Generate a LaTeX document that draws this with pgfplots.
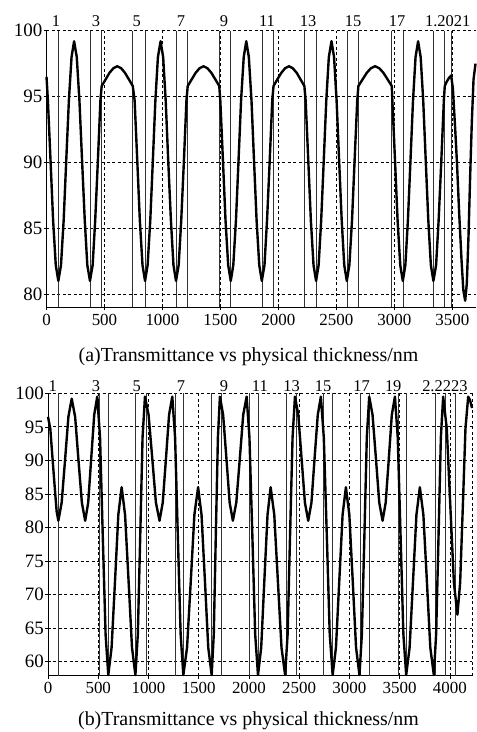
\documentclass[border=0pt]{standalone}
\usepackage{fontspec}
\setmainfont{Liberation Serif}
\usepackage{pgfplots}
\pgfplotsset{compat=1.18}
\pgfplotsset{
  mystyle/.style={
    scale only axis,
    axis x line*=bottom, axis y line*=left,
    enlargelimits=false, clip=false,
    grid=major,
    major grid style={black, line width=0.7pt, dash pattern=on 3pt off 2.5pt},
    tick align=outside, major tick length=3pt,
    tick style={black, line width=0.6pt},
    axis line style={black, line width=0.8pt},
    /pgf/number format/assume math mode=true,
    /pgf/number format/1000 sep={},
    yticklabel style={font=\fontsize{19}{20}\selectfont, inner xsep=1pt},
    xticklabel style={font=\fontsize{17}{18}\selectfont},
    extra x tick labels={},
    extra x tick style={grid=major, major grid style={solid, black!80, line width=0.6pt}, major tick length=0pt},
  },
}
\tikzset{
  curve/.style={black, line width=2.4pt, line join=round},
  lay/.style={anchor=base, font=\fontsize{16.5}{17}\selectfont},
}
\begin{document}
\begin{tikzpicture}
\useasboundingbox (0,0) rectangle (477bp,732bp);
% ---------------- (a) ----------------
\begin{axis}[mystyle,
  at={(46.5bp,424.7bp)}, anchor=south west,
  width=429bp, height=276.6bp,
  xmin=0, xmax=3700, ymin=79, ymax=100,
  xtick={0,500,...,3500}, ytick={80,85,...,100},
  extra x ticks={102,375,476,744,850,1117,1218,1490,1589,1857,1958,2224,2325,2590,2690,2978,3073,3337,3435,3490},
]
\addplot[curve] coordinates {
(0,96.5)(12,94.7)(35,90.1)(57,85.6)(80,82.2)(102,81)
(125,82.2)(148,85.6)(170,90.1)(193,94.7)(216,98)(238,99.2)(261,98)(284,94.7)(307,90.1)(330,85.6)(352,82.2)(375,81)
(398,82.2)(420,85.6)(443,90.1)(465,94.7)(476,95.8)
(510,96.3)(543,96.8)(577,97.15)(610,97.3)(644,97.15)(677,96.8)(711,96.3)(744,95.8)
(760,94.7)(783,90.1)(805,85.6)(828,82.2)(850,81)
(872,82.2)(895,85.6)(917,90.1)(939,94.7)(961,98)(984,99.2)(1006,98)(1028,94.7)(1050,90.1)(1073,85.6)(1095,82.2)(1117,81)
(1140,82.2)(1162,85.6)(1185,90.1)(1207,94.7)(1218,95.8)
(1252,96.3)(1286,96.8)(1320,97.15)(1354,97.3)(1388,97.15)(1422,96.8)(1456,96.3)(1490,95.8)
(1499,94.7)(1522,90.1)(1544,85.6)(1567,82.2)(1589,81)
(1611,82.2)(1634,85.6)(1656,90.1)(1678,94.7)(1701,98)(1723,99.2)(1745,98)(1768,94.7)(1790,90.1)(1812,85.6)(1835,82.2)(1857,81)
(1880,82.2)(1902,85.6)(1925,90.1)(1947,94.7)(1958,95.8)
(1991,96.3)(2025,96.8)(2058,97.15)(2091,97.3)(2124,97.15)(2158,96.8)(2191,96.3)(2224,95.8)
(2235,94.7)(2258,90.1)(2280,85.6)(2303,82.2)(2325,81)
(2347,82.2)(2369,85.6)(2391,90.1)(2413,94.7)(2435,98)(2458,99.2)(2480,98)(2502,94.7)(2524,90.1)(2546,85.6)(2568,82.2)(2590,81)
(2612,82.2)(2635,85.6)(2657,90.1)(2680,94.7)(2690,95.8)
(2726,96.3)(2762,96.8)(2798,97.15)(2834,97.3)(2870,97.15)(2906,96.8)(2942,96.3)(2978,95.8)
(2983,94.7)(3006,90.1)(3028,85.6)(3051,82.2)(3073,81)
(3095,82.2)(3117,85.6)(3139,90.1)(3161,94.7)(3183,98)(3205,99.2)(3227,98)(3249,94.7)(3271,90.1)(3293,85.6)(3315,82.2)(3337,81)
(3360,82.2)(3382,85.6)(3405,90.1)(3427,94.7)(3435,95.8)
(3450,96.1)(3470,96.4)(3490,96.6)
(3505,95.6)(3525,92.5)(3540,90)(3560,86)(3580,82.5)(3595,80.3)(3611,79.5)
(3625,80.8)(3640,84.5)(3654,89)(3668,93)(3683,96.3)(3700,97.5)
};
\node[lay, yshift=4bp] at (axis cs:82,100) {1};
\node[lay, yshift=4bp] at (axis cs:427,100) {3};
\node[lay, yshift=4bp] at (axis cs:778,100) {5};
\node[lay, yshift=4bp] at (axis cs:1160,100) {7};
\node[lay, yshift=4bp] at (axis cs:1531,100) {9};
\node[lay, yshift=4bp] at (axis cs:1902,100) {11};
\node[lay, yshift=4bp] at (axis cs:2256,100) {13};
\node[lay, yshift=4bp] at (axis cs:2645,100) {15};
\node[lay, yshift=4bp] at (axis cs:3024,100) {17};
\node[lay, yshift=4bp] at (axis cs:3460,100) {1.2021};
\end{axis}
\node[anchor=base, font=\fontsize{20}{22}\selectfont] at (248.5bp,370.3bp) {(a)Transmittance vs physical thickness/nm};
% ---------------- (b) ----------------
\begin{axis}[mystyle,
  at={(48bp,56.3bp)}, anchor=south west,
  width=424bp, height=282.4bp,
  xmin=0, xmax=4220, ymin=57.9, ymax=100,
  xtick={0,500,...,4000}, ytick={60,65,...,100},
  extra x ticks={103,511,600,870,980,1264,1347,1629,1728,2003,2093,2368,2474,2739,2833,3104,3200,3486,3569,3851,3950,4050},
]
\addplot[black, line width=0.7pt, dash pattern=on 3pt off 2.5pt] coordinates {(4220,57.9)(4220,100)};
\addplot[curve] coordinates {
(0,96.5)(23,94.7)(46,90.1)(69,85.6)(86,82.4)(103,81)
(136,83.7)(170,90.1)(203,96.5)(236,99.2)
(270,96.5)(303,90.1)(337,83.7)(370,81)
(400,83.7)(430,90.25)(460,96.8)(490,99.5)
(518,93.4)(545,78.75)(573,64.1)(600,58)
(633,62.1)(667,72)(700,81.9)(733,86)
(767,81.9)(802,72)(836,62.1)(870,58)
(894,64.1)(918,78.75)(941,93.4)(965,99.5)
(1001,96.8)(1038,90.25)(1074,83.7)(1110,81)
(1142,83.7)(1174,90.25)(1205,96.8)(1237,99.5)
(1265,93.4)(1292,78.75)(1320,64.1)(1347,58)
(1384,62.1)(1421,72)(1457,81.9)(1494,86)
(1528,81.9)(1562,72)(1595,62.1)(1629,58)
(1650,64.1)(1670,78.75)(1691,93.4)(1711,99.5)
(1743,96.8)(1776,90.25)(1808,83.7)(1840,81)
(1874,83.7)(1909,90.25)(1943,96.8)(1977,99.5)
(2005,93.4)(2034,78.75)(2062,64.1)(2090,58)
(2122,62.1)(2153,72)(2185,81.9)(2216,86)
(2252,81.9)(2288,72)(2324,62.1)(2360,58)
(2385,64.1)(2409,78.75)(2434,93.4)(2458,99.5)
(2491,96.8)(2524,90.25)(2557,83.7)(2590,81)
(2622,83.7)(2653,90.25)(2685,96.8)(2716,99.5)
(2745,93.4)(2775,78.75)(2804,64.1)(2833,58)
(2866,62.1)(2899,72)(2932,81.9)(2965,86)
(2999,81.9)(3033,72)(3066,62.1)(3100,58)
(3124,64.1)(3149,78.75)(3173,93.4)(3197,99.5)
(3230,96.8)(3264,90.25)(3297,83.7)(3330,81)
(3361,83.7)(3392,90.25)(3422,96.8)(3453,99.5)
(3481,93.4)(3509,78.75)(3537,64.1)(3565,58)
(3599,62.1)(3633,72)(3667,81.9)(3701,86)
(3736,81.9)(3771,72)(3805,62.1)(3840,58)
(3863,64.1)(3887,78.75)(3910,93.4)(3933,99.5)
(3969,94.75)(4004,83.25)(4040,71.75)(4075,67)
(4102,71.75)(4129,83.25)(4155,94.75)(4182,99.5)
(4200,99)(4220,97.8)
};
\node[lay, yshift=2bp] at (axis cs:47,100) {1};
\node[lay, yshift=2bp] at (axis cs:478,100) {3};
\node[lay, yshift=2bp] at (axis cs:883,100) {5};
\node[lay, yshift=2bp] at (axis cs:1323,100) {7};
\node[lay, yshift=2bp] at (axis cs:1751,100) {9};
\node[lay, yshift=2bp] at (axis cs:2109,100) {11};
\node[lay, yshift=2bp] at (axis cs:2425,100) {13};
\node[lay, yshift=2bp] at (axis cs:2739,100) {15};
\node[lay, yshift=2bp] at (axis cs:3121,100) {17};
\node[lay, yshift=2bp] at (axis cs:3436,100) {19};
\node[lay, yshift=2bp] at (axis cs:3950,100) {2.2223};
\end{axis}
\node[anchor=base, font=\fontsize{20}{22}\selectfont] at (248.5bp,6.5bp) {(b)Transmittance vs physical thickness/nm};
\end{tikzpicture}
\end{document}
